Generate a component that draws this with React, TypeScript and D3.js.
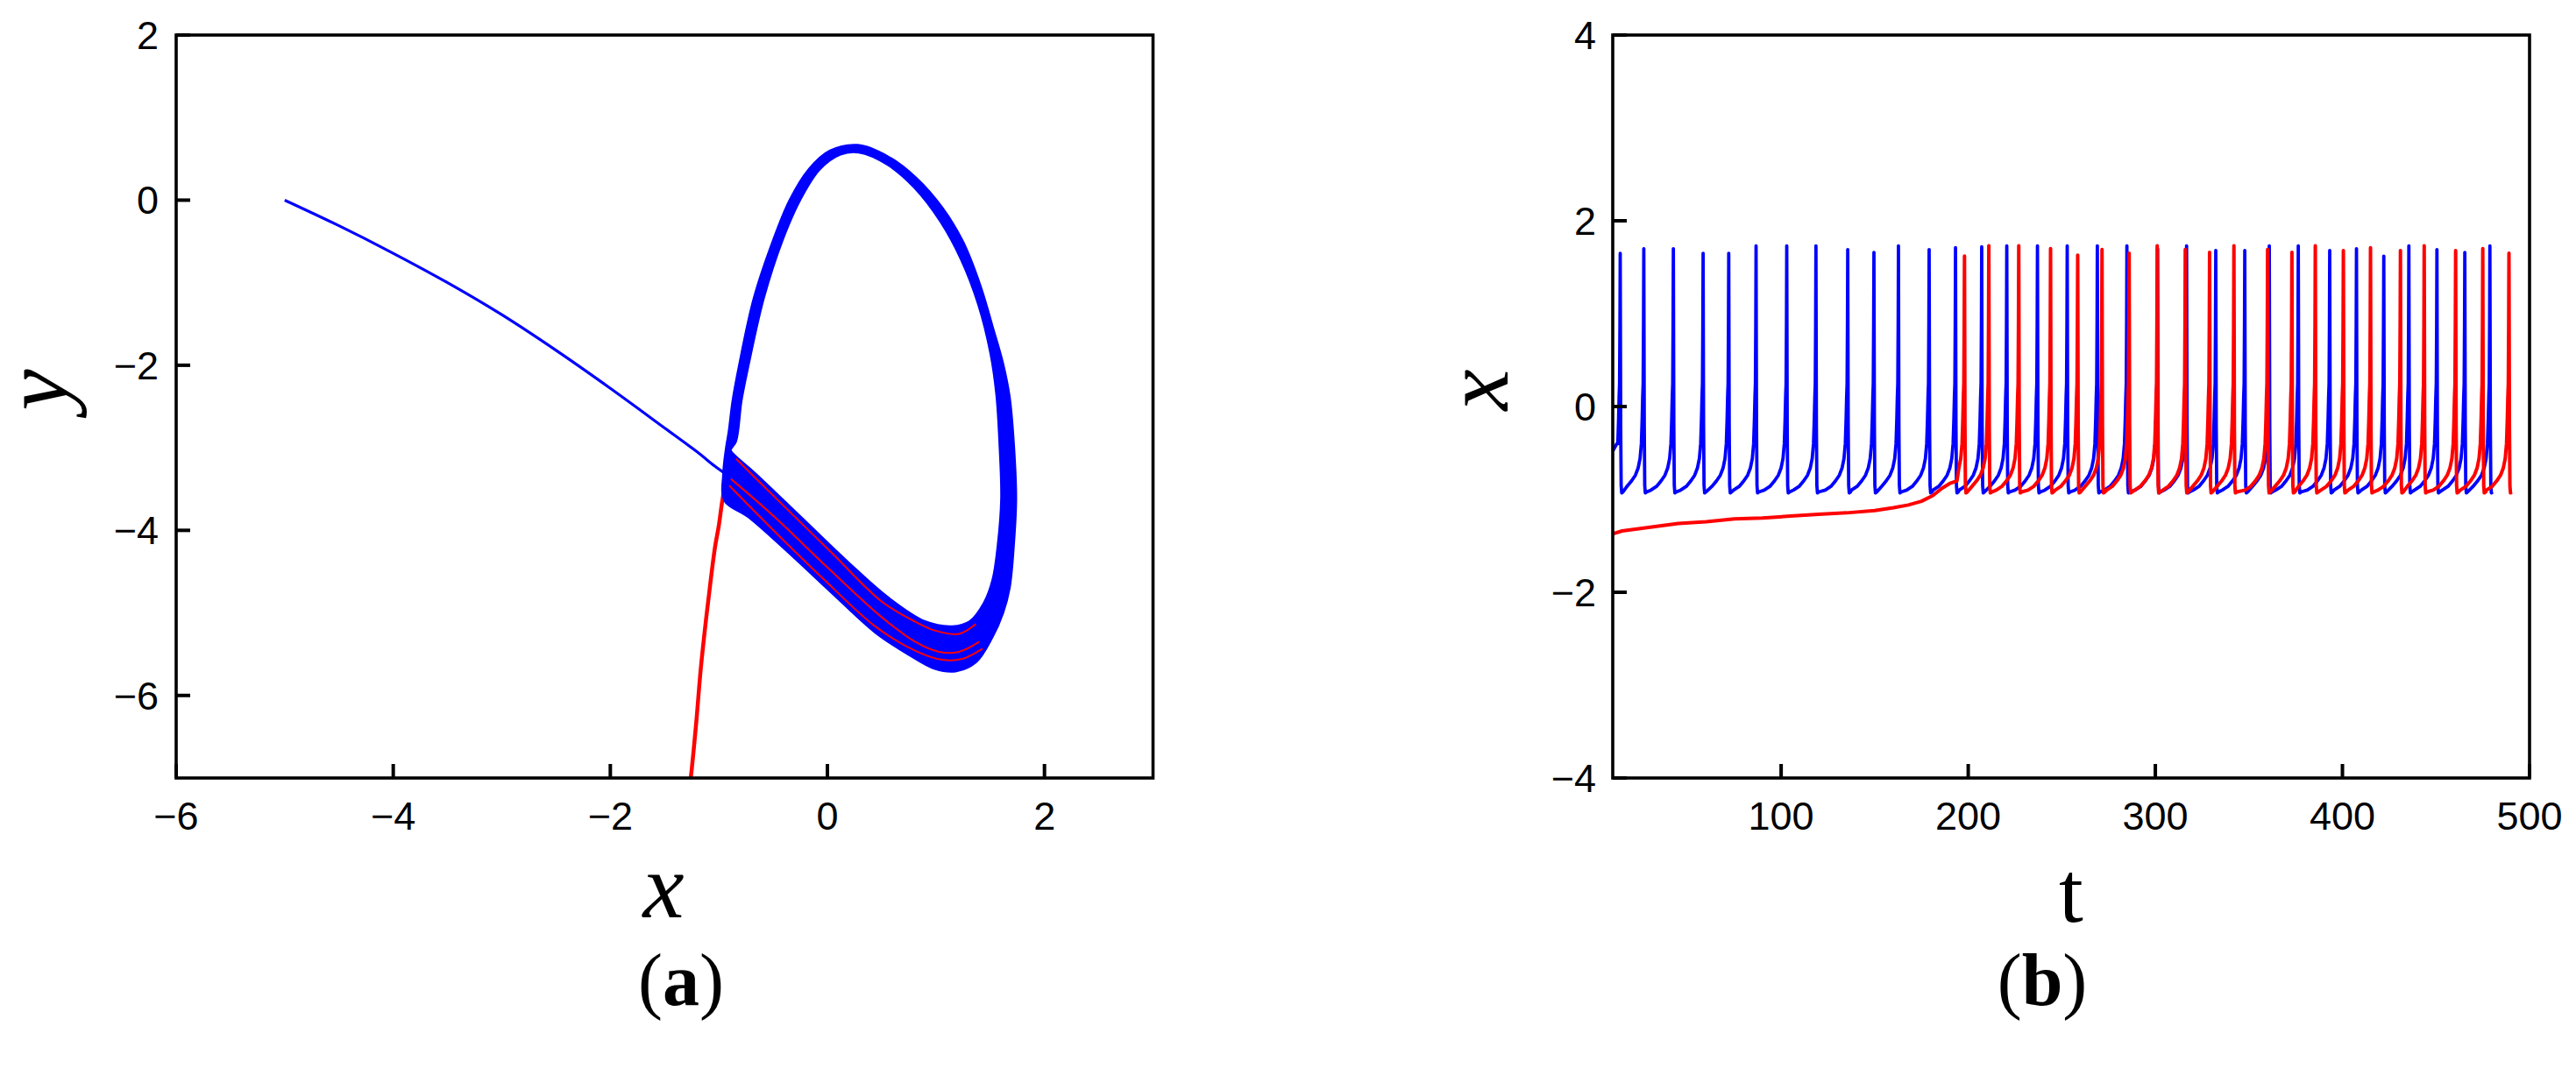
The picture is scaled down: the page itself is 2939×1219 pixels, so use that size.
import React from "react";
import * as d3 from "d3";

const W = 2939;
const H = 1219;

// ---- panel (a): phase plane ----
const aXTicks = [-6, -4, -2, 0, 2];
const aYTicks = [-6, -4, -2, 0, 2];

const blueTransient: [number, number][] = [
  [-5, 0], [-4.5, -0.31], [-4.02, -0.63], [-3.5, -1.0], [-3.01, -1.38],
  [-2.5, -1.82], [-2.0, -2.28], [-1.5, -2.76], [-1.2, -3.05], [-1.04, -3.22], [-0.935, -3.32],
];

// outer / inner edge of the blue band of cycles
const cycleOuter: [number, number][] = [
  [-0.95, -3.64], [-0.96, -3.3], [-0.935, -3.0], [-0.91, -2.8], [-0.875, -2.43],
  [-0.815, -2.0], [-0.68, -1.19], [-0.5, -0.48], [-0.35, 0.0], [-0.17, 0.38],
  [0.02, 0.6], [0.28, 0.67], [0.56, 0.53], [0.82, 0.27], [1.06, -0.09],
  [1.25, -0.5], [1.41, -1.03], [1.53, -1.56], [1.62, -1.98], [1.68, -2.38],
  [1.72, -2.97], [1.74, -3.62], [1.72, -4.16], [1.68, -4.7], [1.62, -5.0],
  [1.52, -5.3], [1.37, -5.6], [1.18, -5.71], [0.99, -5.68], [0.75, -5.51],
  [0.44, -5.24], [0.04, -4.76], [-0.36, -4.27], [-0.73, -3.84],
];
const cycleInner: [number, number][] = [
  [-0.89, -3.03], [-0.84, -2.92], [-0.79, -2.43], [-0.725, -2.0], [-0.585, -1.19],
  [-0.41, -0.48], [-0.25, 0.0], [-0.07, 0.37], [0.12, 0.55], [0.29, 0.575],
  [0.55, 0.43], [0.8, 0.15], [1.04, -0.26], [1.23, -0.72], [1.39, -1.27],
  [1.5, -1.85], [1.555, -2.35], [1.585, -2.97], [1.6, -3.62], [1.57, -4.16],
  [1.52, -4.6], [1.44, -4.88], [1.31, -5.1], [1.15, -5.16], [0.9, -5.1],
  [0.56, -4.81], [0.19, -4.38], [-0.24, -3.84], [-0.67, -3.3], [-0.86, -3.08],
];

const redTransient: [number, number][] = [
  [-1.29, -7.3], [-1.259, -7.0], [-1.21, -6.35], [-1.167, -5.68], [-1.12, -5.1],
  [-1.074, -4.59], [-1.035, -4.2], [-1.0, -3.94], [-0.975, -3.7], [-0.95, -3.5],
];
const redBand1: [number, number][] = [
  [-0.842, -3.133], [-0.425, -3.674], [0.038, -4.27], [0.502, -4.864],
  [0.811, -5.108], [0.996, -5.216], [1.213, -5.254], [1.367, -5.135],
];
const redBand2: [number, number][] = [
  [-0.889, -3.377], [-0.487, -3.837], [0.008, -4.459], [0.502, -5.054],
  [0.811, -5.352], [1.027, -5.471], [1.213, -5.471], [1.398, -5.352],
];
const redBand3: [number, number][] = [
  [-0.904, -3.458], [-0.518, -3.972], [-0.054, -4.567], [0.44, -5.163],
  [0.811, -5.46], [1.058, -5.568], [1.243, -5.557], [1.429, -5.433],
];

// ---- panel (b): time series ----
const bXTicks = [100, 200, 300, 400, 500];
const bYTicks = [-4, -2, 0, 2, 4];

const blueStart: [number, number][] = [[10, -0.48], [12.2, -0.4]];
const blueSpikeT = [
  14, 26.6, 42.4, 58.3, 72.0, 86.6, 103.0, 118.6, 135.6, 149.6, 162.7, 179.1,
  193.2, 207.2, 220.6, 237.0, 252.9, 269.0, 284.8, 301.2, 316.7, 332.3, 347.8,
  360.9, 376.4, 393.2, 407.5, 422.1, 435.5, 450.5, 465.4, 478.8,
];
const blueSpikePeak = [
  1.65, 1.7, 1.7, 1.65, 1.65, 1.73, 1.73, 1.73, 1.69, 1.66, 1.73, 1.69,
  1.71, 1.72, 1.73, 1.73, 1.73, 1.73, 1.73, 1.7, 1.73, 1.68, 1.68,
  1.73, 1.73, 1.68, 1.7, 1.62, 1.73, 1.69, 1.66, 1.73,
];

const redSlow: [number, number][] = [
  [10, -1.37], [15, -1.34], [30, -1.3], [45, -1.26], [60, -1.24], [75, -1.21],
  [90, -1.2], [105, -1.18], [120, -1.16], [135, -1.145], [150, -1.12], [160, -1.09],
  [168, -1.06], [175, -1.02], [181, -0.96], [186, -0.88], [190, -0.83], [194, -0.8],
];
const redSpikeT = [
  198, 211, 227, 244, 258.5, 271.5, 286, 301, 316, 329, 342, 360, 373,
  385.5, 400.5, 415, 431, 443.7, 460.5, 475, 489,
];
const redSpikePeak = [
  1.62, 1.73, 1.73, 1.7, 1.63, 1.69, 1.65, 1.73, 1.69, 1.66, 1.73, 1.69, 1.66,
  1.73, 1.68, 1.71, 1.68, 1.73, 1.68, 1.7, 1.65,
];

// shape of one spike (time offset from peak, value)
const spikeRise: [number, number][] = [
  [-12, -0.9], [-9, -0.86], [-6.5, -0.8], [-4.5, -0.74], [-3, -0.66], [-2, -0.56],
  [-1.3, -0.4], [-0.9, -0.15], [-0.6, 0.1], [-0.35, 0.25], [-0.15, 0.9],
];
const spikeFall: [number, number][] = [
  [0.25, -0.2], [0.5, -0.85], [0.8, -0.93], [1.5, -0.92],
];

function buildTrace(start: [number, number][], times: number[], peaks: number[]) {
  const pts: [number, number][] = [...start];
  times.forEach((p, i) => {
    const last = pts[pts.length - 1][0];
    spikeRise.forEach(([dt, v]) => {
      if (p + dt > last + 0.3) pts.push([p + dt, v]);
    });
    pts.push([p, peaks[i]]);
    spikeFall.forEach(([dt, v]) => pts.push([p + dt, v]));
  });
  return pts;
}

const fmt = (v: number) => (v < 0 ? `\u2212${Math.abs(v)}` : `${v}`);

const tickFont = "'Liberation Sans', Arial, sans-serif";
const labelFont = "'Liberation Serif', 'Times New Roman', serif";

const App = () => {
  // panel a scales
  const ax = d3.scaleLinear().domain([-6, 3]).range([201, 1315.5]);
  const ay = d3.scaleLinear().domain([-7, 2]).range([888, 40]);
  // panel b scales
  const bx = d3.scaleLinear().domain([10, 500]).range([1840, 2886]);
  const by = d3.scaleLinear().domain([-4, 4]).range([888, 40]);

  const aSmooth = d3
    .line<[number, number]>()
    .x((d) => ax(d[0]))
    .y((d) => ay(d[1]))
    .curve(d3.curveCatmullRom.alpha(0.5));
  const aClosed = d3
    .line<[number, number]>()
    .x((d) => ax(d[0]))
    .y((d) => ay(d[1]))
    .curve(d3.curveCatmullRomClosed.alpha(0.5));
  const ringPath = (aClosed(cycleOuter) || "") + (aClosed(cycleInner) || "");

  const bLine = d3.line<[number, number]>().x((d) => bx(d[0])).y((d) => by(d[1]));
  const blueTrace = buildTrace(blueStart, blueSpikeT, blueSpikePeak);
  const redTrace = buildTrace(redSlow, redSpikeT, redSpikePeak);

  const frame = (x0: number, x1: number, y0: number, y1: number) => (
    <rect x={x0} y={y1} width={x1 - x0} height={y0 - y1} fill="none" stroke="#000" strokeWidth={3.6} />
  );

  return (
    <svg
      width={W}
      height={H}
      viewBox={`0 0 ${W} ${H}`}
      style={{ position: "absolute", left: 0, top: 0, background: "#fff" }}
    >
      <defs>
        <clipPath id="clipA">
          <rect x={201} y={40} width={1114.5} height={848} />
        </clipPath>
        <clipPath id="clipB">
          <rect x={1840} y={40} width={1046} height={848} />
        </clipPath>
      </defs>

      {/* panel a data */}
      <g clipPath="url(#clipA)">
        <path d={aSmooth(redTransient) || ""} fill="none" stroke="#ff0000" strokeWidth={4.5} />
        <path d={aSmooth(blueTransient) || ""} fill="none" stroke="#0000ff" strokeWidth={3.2} />
        <path d={ringPath} fill="#0000ff" fillRule="evenodd" stroke="#0000ff" strokeWidth={2} />
        {[redBand1, redBand2, redBand3].map((r, i) => (
          <path key={i} d={aSmooth(r) || ""} fill="none" stroke="#ff0000" strokeWidth={2} />
        ))}
      </g>

      {/* panel a axes */}
      {frame(201, 1315.5, 888, 40)}
      {aXTicks.map((t) => (
        <g key={`ax${t}`}>
          <line x1={ax(t)} x2={ax(t)} y1={888} y2={872} stroke="#000" strokeWidth={4} />
          <text x={ax(t)} y={947} textAnchor="middle" fontFamily={tickFont} fontSize={45}>
            {fmt(t)}
          </text>
        </g>
      ))}
      {aYTicks.map((t) => (
        <g key={`ay${t}`}>
          <line x1={201} x2={217} y1={ay(t)} y2={ay(t)} stroke="#000" strokeWidth={4} />
          <text x={181} y={ay(t) + 16} textAnchor="end" fontFamily={tickFont} fontSize={45}>
            {fmt(t)}
          </text>
        </g>
      ))}
      <text x={757} y={1047} textAnchor="middle" fontFamily={labelFont} fontStyle="italic" fontSize={106}>
        x
      </text>
      <text
        transform="translate(76,445) rotate(-90)"
        textAnchor="middle"
        fontFamily={labelFont}
        fontStyle="italic"
        fontSize={106}
      >
        y
      </text>
      <text x={777} y={1147} textAnchor="middle" fontFamily={labelFont} fontSize={84}>
        (<tspan fontWeight="bold">a</tspan>)
      </text>

      {/* panel b data */}
      <g clipPath="url(#clipB)">
        <path d={bLine(blueTrace) || ""} fill="none" stroke="#0000ff" strokeWidth={3.8} strokeLinejoin="round" />
        <path d={bLine(redTrace) || ""} fill="none" stroke="#ff0000" strokeWidth={4} strokeLinejoin="round" />
      </g>

      {/* panel b axes */}
      {frame(1840, 2886, 888, 40)}
      {bXTicks.map((t) => (
        <g key={`bx${t}`}>
          <line x1={bx(t)} x2={bx(t)} y1={888} y2={872} stroke="#000" strokeWidth={4} />
          <text x={bx(t)} y={947} textAnchor="middle" fontFamily={tickFont} fontSize={45}>
            {fmt(t)}
          </text>
        </g>
      ))}
      {bYTicks.map((t) => (
        <g key={`by${t}`}>
          <line x1={1840} x2={1856} y1={by(t)} y2={by(t)} stroke="#000" strokeWidth={4} />
          <text x={1821} y={by(t) + 16} textAnchor="end" fontFamily={tickFont} fontSize={45}>
            {fmt(t)}
          </text>
        </g>
      ))}
      <text x={2363} y={1052} textAnchor="middle" fontFamily={labelFont} fontSize={100}>
        t
      </text>
      <text
        transform="translate(1720,445) rotate(-90)"
        textAnchor="middle"
        fontFamily={labelFont}
        fontStyle="italic"
        fontSize={106}
      >
        x
      </text>
      <text x={2330} y={1147} textAnchor="middle" fontFamily={labelFont} fontSize={84}>
        (<tspan fontWeight="bold">b</tspan>)
      </text>
    </svg>
  );
};

export default App;
